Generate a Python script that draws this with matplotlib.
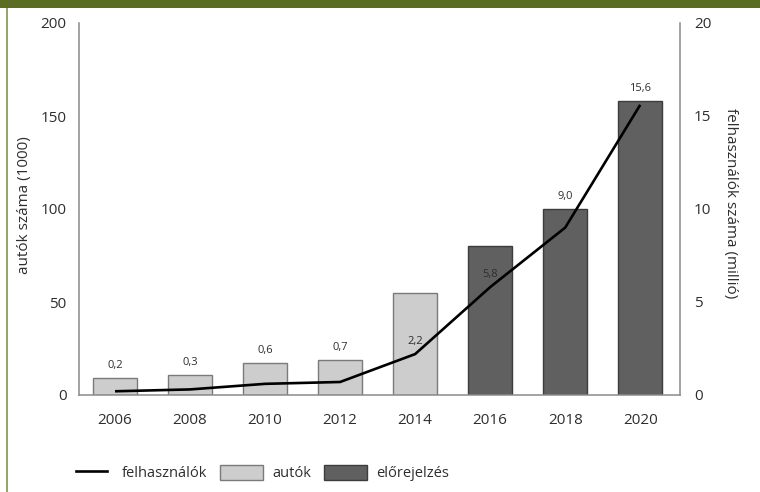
import matplotlib
matplotlib.use("Agg")
import matplotlib.pyplot as plt
from matplotlib.lines import Line2D
from matplotlib.patches import Patch, Rectangle
from matplotlib.legend_handler import HandlerLine2D

# data
years = ["2006", "2008", "2010", "2012", "2014", "2016", "2018", "2020"]
cars = [9, 11, 17, 19, 55, 80, 100, 158]          # autók száma (1000)
users = [0.2, 0.3, 0.6, 0.7, 2.2, 5.8, 9.0, 15.6]  # felhasználók száma (millió)
forecast = [False, False, False, False, False, True, True, True]
label_on_line = [False, False, False, False, True, True, False, False]

LIGHT = "#cdcdcd"
LIGHT_EDGE = "#7a7a7a"
DARK = "#606060"
DARK_EDGE = "#3c3c3c"
SPINE = "#8a8a8a"
TEXT = "#2e2e2e"


class ShortLineHandler(HandlerLine2D):
    # legend line a bit shorter than the patch boxes, centred in its slot
    def create_artists(self, legend, orig_handle, xdescent, ydescent,
                       width, height, fontsize, trans):
        short = width * 0.7
        return super().create_artists(legend, orig_handle,
                                      xdescent - (width - short) / 2, ydescent,
                                      short, height, fontsize, trans)


plt.rcParams["font.family"] = ["Open Sans", "DejaVu Sans"]

W, H = 760, 492
fig = plt.figure(figsize=(W / 100, H / 100), dpi=100)
fig.patch.set_facecolor("white")

# green frame pieces of the original page
fig.add_artist(Rectangle((0, 1 - 8 / H), 1, 8 / H, transform=fig.transFigure,
                         facecolor="#5a6d23", edgecolor="none"))
fig.add_artist(Rectangle((6 / W, 0), 2 / W, 1 - 8 / H, transform=fig.transFigure,
                         facecolor="#93a766", edgecolor="none"))

left, right, top, bottom = 79, 680, 23, 395
ax = fig.add_axes([left / W, 1 - bottom / H, (right - left) / W, (bottom - top) / H])
ax2 = ax.twinx()

x = list(range(len(years)))
colors = [DARK if f else LIGHT for f in forecast]
edges = [DARK_EDGE if f else LIGHT_EDGE for f in forecast]
ax.bar(x, cars, width=0.58, color=colors, edgecolor=edges, linewidth=1.0)

ax2.plot(x, users, color="black", linewidth=1.9, solid_capstyle="butt")

ax.set_ylim(0, 200)
ax2.set_ylim(0, 20)
ax.set_xlim(-0.48, 7.53)

ax.set_yticks([0, 50, 100, 150, 200])
ax2.set_yticks([0, 5, 10, 15, 20])
ax.set_xticks(x)
ax.set_xticklabels(years)

ax.tick_params(axis="y", length=0, pad=9, labelsize=11, labelcolor=TEXT)
ax2.tick_params(axis="y", length=0, pad=10, labelsize=11, labelcolor=TEXT)
ax.tick_params(axis="x", length=0, pad=13, labelsize=11, labelcolor=TEXT)

for a in (ax, ax2):
    a.spines["top"].set_visible(False)
    for s in ("left", "right", "bottom"):
        a.spines[s].set_color(SPINE)
        a.spines[s].set_linewidth(1.1)
ax.spines["right"].set_visible(False)
ax2.spines["left"].set_visible(False)
ax2.spines["bottom"].set_visible(False)

# value labels for the user line
for i, v in enumerate(users):
    anchor = v if label_on_line[i] else cars[i] / 10
    ax2.annotate(f"{v:.1f}".replace(".", ","), (i, anchor),
                 textcoords="offset points", xytext=(0, 5),
                 ha="center", va="bottom", fontsize=8, color=TEXT)

fig.text(25 / W, 1 - 205 / H, "autók száma (1000)", rotation=90,
         ha="center", va="center", fontsize=11, color=TEXT)
fig.text(730 / W, 1 - 203 / H, "felhasználók száma (millió)", rotation=270,
         ha="center", va="center", fontsize=11, color=TEXT)

line_handle = Line2D([0], [0], color="black", linewidth=1.9)
handles = [
    line_handle,
    Patch(facecolor=LIGHT, edgecolor=LIGHT_EDGE, linewidth=1.0),
    Patch(facecolor=DARK, edgecolor=DARK_EDGE, linewidth=1.0),
]
fig.legend(handles, ["felhasználók", "autók", "előrejelzés"],
           loc="center left", bbox_to_anchor=(70 / W, 1 - 473 / H),
           ncol=3, frameon=False, fontsize=10.5, labelcolor=TEXT,
           handlelength=2.95, handleheight=1.3, handletextpad=0.6,
           columnspacing=0.9, borderpad=0, borderaxespad=0,
           handler_map={line_handle: ShortLineHandler()})

fig.savefig("out.png", dpi=100)
